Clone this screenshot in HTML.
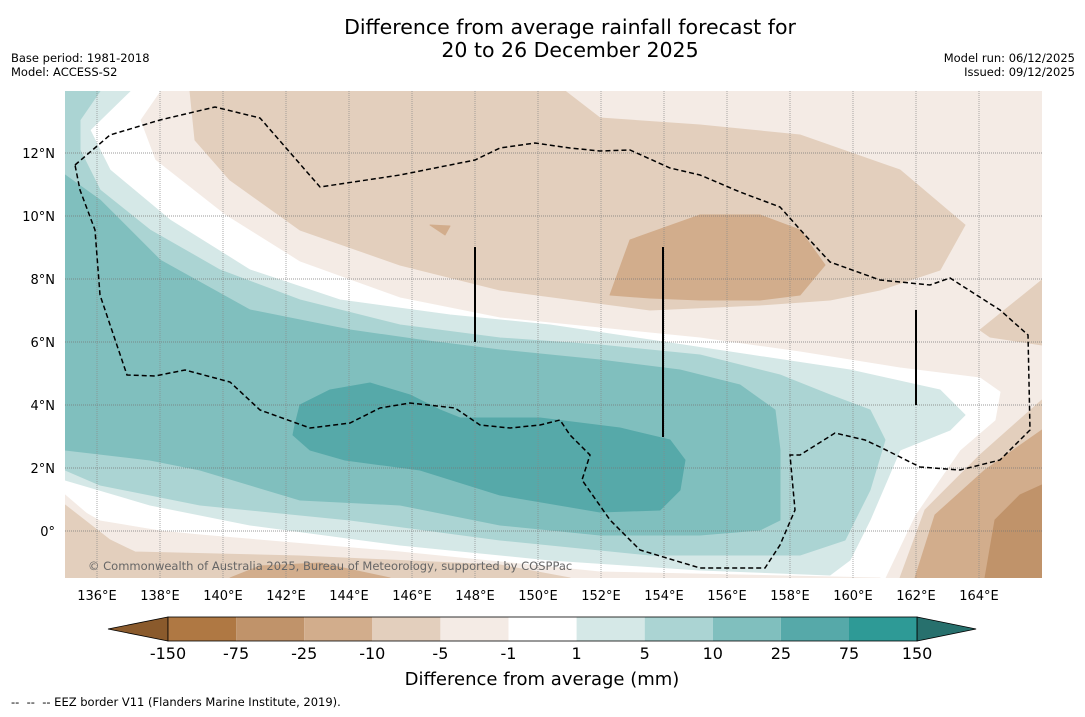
<!DOCTYPE html>
<html><head><meta charset="utf-8"><style>
body{margin:0;background:#fff;width:1085px;height:713px;overflow:hidden;font-family:"DejaVu Sans","Liberation Sans",sans-serif;}
</style></head><body>
<svg width="1085" height="713" xmlns="http://www.w3.org/2000/svg">
<g font-family="DejaVu Sans, Liberation Sans, sans-serif" fill="#000">
<text x="570" y="34" font-size="20.5" text-anchor="middle">Difference from average rainfall forecast for</text>
<text x="570" y="57" font-size="20.5" text-anchor="middle">20 to 26 December 2025</text>
<text x="11" y="62" font-size="11.5">Base period: 1981-2018</text>
<text x="11" y="76" font-size="11.5">Model: ACCESS-S2</text>
<text x="1075" y="62" font-size="11.5" text-anchor="end">Model run: 06/12/2025</text>
<text x="1075" y="76" font-size="11.5" text-anchor="end">Issued: 09/12/2025</text>
</g>
<defs><clipPath id="mc"><rect x="65" y="91" width="977" height="487"/></clipPath></defs>
<g id="map" clip-path="url(#mc)"></g>
<g id="axes"></g>
<g id="cbar"></g>
<text x="542" y="685" font-size="18" text-anchor="middle" font-family="DejaVu Sans, Liberation Sans, sans-serif">Difference from average (mm)</text>
<text x="11" y="706" font-size="11.5" font-family="DejaVu Sans, Liberation Sans, sans-serif" xml:space="preserve">--  --  -- EEZ border V11 (Flanders Marine Institute, 2019).</text>
</svg>
<script>
const NS="http://www.w3.org/2000/svg";
const lonTicks=[136,138,140,142,144,146,148,150,152,154,156,158,160,162,164];
const latTicks=[0,2,4,6,8,10,12];
const levels=["-150","-75","-25","-10","-5","-1","1","5","10","25","75","150"];
const levelColors=["#af7843","#c0936a","#d2ad8c","#e3cfbd","#f4ebe5","#ffffff","#d5e8e7","#abd4d3","#80bfbe","#56a9a9","#2e9a96"];
const xs=lon=>65.5+(lon-135)*31.5;
const ys=lat=>531-lat*31.5;
// contour shapes (map geometry, pixel outline)
const shapes=[
["#f4ebe5","65,91 1042,91 1042,578 65,578"],
["#e3cfbd","190,91 565,91 600,118 700,125 800,135 900,170 965,225 940,270 880,290 830,300 760,305 650,310 500,290 400,265 300,230 230,180 195,140"],
["#e3cfbd","980,330 1042,280 1042,345 990,337"],
["#d2ad8c","610,295 630,240 700,215 760,215 800,230 825,265 800,295 760,300 700,300 650,298"],
["#d2ad8c","430,225 450,226 445,235"],
["#e3cfbd","900,578 925,510 980,455 1042,400 1042,578"],
["#d2ad8c","915,578 935,515 985,470 1042,430 1042,578"],
["#c0936a","985,578 995,520 1020,495 1042,485 1042,578"],
["#ffffff","65,91 160,91 140,120 155,160 225,215 300,262 400,298 500,318 600,328 700,338 800,352 900,368 980,378 1000,392 995,420 960,450 915,515 885,578 620,578 420,562 220,540 100,520 65,500"],
["#f4ebe5","65,495 100,525 200,535 400,552 600,572 880,578 65,578"],
["#e3cfbd","65,505 110,540 135,552 300,556 500,565 570,578 65,578"],
["#d2ad8c","230,578 260,566 320,563 390,578"],
["#d5e8e7","65,91 130,91 90,130 110,170 170,220 250,270 340,300 450,315 550,325 650,340 750,355 850,370 940,390 965,415 950,430 900,450 870,520 850,560 830,575 700,570 550,560 400,545 250,525 150,505 65,480"],
["#abd4d3","65,91 100,91 80,120 80,150 100,190 150,230 220,270 300,300 400,325 500,338 600,345 700,355 780,375 830,395 870,410 885,440 870,490 845,540 800,555 650,555 500,540 350,520 200,505 100,485 65,470"],
["#80bfbe","65,175 100,200 160,260 250,310 350,330 420,340 500,350 600,360 680,370 740,385 775,410 780,450 780,520 760,530 700,535 600,535 500,525 400,505 300,500 200,470 150,460 65,450"],
["#56a9a9","295,425 300,405 330,390 370,383 410,395 440,410 460,418 540,418 620,428 670,440 685,460 680,490 660,510 600,512 500,495 420,470 345,460 310,450 293,435"]
];
const eez="75,165 110,135 160,120 215,107 260,118 320,187 400,175 475,160 500,148 535,143 570,148 600,151 630,150 670,168 700,175 740,192 780,207 805,235 830,262 880,280 930,285 950,278 1000,310 1028,335 1030,430 1000,460 960,470 920,467 880,447 865,440 835,433 800,455 790,455 795,510 780,545 765,568 700,568 640,550 610,520 582,480 590,455 570,435 560,420 540,425 510,428 480,425 455,408 410,403 380,408 350,423 310,428 260,410 230,382 185,370 155,376 127,375 100,295 95,230 80,190 75,165";
const map=document.getElementById('map');
function mk(tag,attrs,parent){const e=document.createElementNS(NS,tag);for(const k in attrs)e.setAttribute(k,attrs[k]);parent.appendChild(e);return e;}
shapes.forEach(s=>{const p=mk('polygon',{points:s[1],fill:s[0],stroke:s[0],'stroke-width':1,'stroke-linejoin':'round'},map);

});
lonTicks.forEach(l=>{const g=mk('line',{x1:xs(l),x2:xs(l),y1:91,y2:578,stroke:'#888','stroke-width':0.7,'stroke-dasharray':'1,1'},map);

});
latTicks.forEach(l=>{const g=mk('line',{x1:65,x2:1042,y1:ys(l),y2:ys(l),stroke:'#777','stroke-width':0.7,'stroke-dasharray':'1,1'},map);

});
const ez=mk('polyline',{points:eez,fill:'none',stroke:'#000','stroke-width':1.5,'stroke-dasharray':'5,3'},map);


[[475,247,342],[663,247,437],[916,310,405]].forEach(v=>{const l=mk('line',{x1:v[0],x2:v[0],y1:v[1],y2:v[2],stroke:'#000','stroke-width':2},map);

});
const cr=mk('text',{x:88,y:570,'font-size':11.5,fill:'#666','font-family':'DejaVu Sans, sans-serif'},map);cr.textContent='© Commonwealth of Australia 2025, Bureau of Meteorology, supported by COSPPac';


const ax=document.getElementById('axes');
lonTicks.forEach(l=>{const t=mk('text',{x:xs(l),y:600,'font-size':13,'text-anchor':'middle','font-family':'DejaVu Sans, sans-serif'},ax);t.textContent=l+'°E';

});
latTicks.forEach(l=>{const t=mk('text',{x:55,y:ys(l)+5,'font-size':13,'text-anchor':'end','font-family':'DejaVu Sans, sans-serif'},ax);t.textContent=l===0?'0°':l+'°N';

});
const cb=document.getElementById('cbar');
const bx0=168,bw=68.1,by=617,bh=24;
const lt=mk('polygon',{points:`108,${by+bh/2} ${bx0},${by} ${bx0},${by+bh}`,fill:'#8a5a2c',stroke:'#000','stroke-width':0.8},cb);


levelColors.forEach((c,i)=>{const r=mk('rect',{x:bx0+i*bw,y:by,width:bw,height:bh,fill:c},cb);

});
const xe=bx0+levelColors.length*bw;
const rt=mk('polygon',{points:`${xe},${by} ${xe+59},${by+bh/2} ${xe},${by+bh}`,fill:'#27706d',stroke:'#000','stroke-width':0.8},cb);


mk('rect',{x:bx0,y:by,width:xe-bx0,height:bh,fill:'none',stroke:'#000','stroke-width':0.8},cb);
levels.forEach((v,i)=>{const t=mk('text',{x:bx0+i*bw,y:659,'font-size':16,'text-anchor':'middle','font-family':'DejaVu Sans, sans-serif'},cb);t.textContent=v;

});
</script>
</body></html>
